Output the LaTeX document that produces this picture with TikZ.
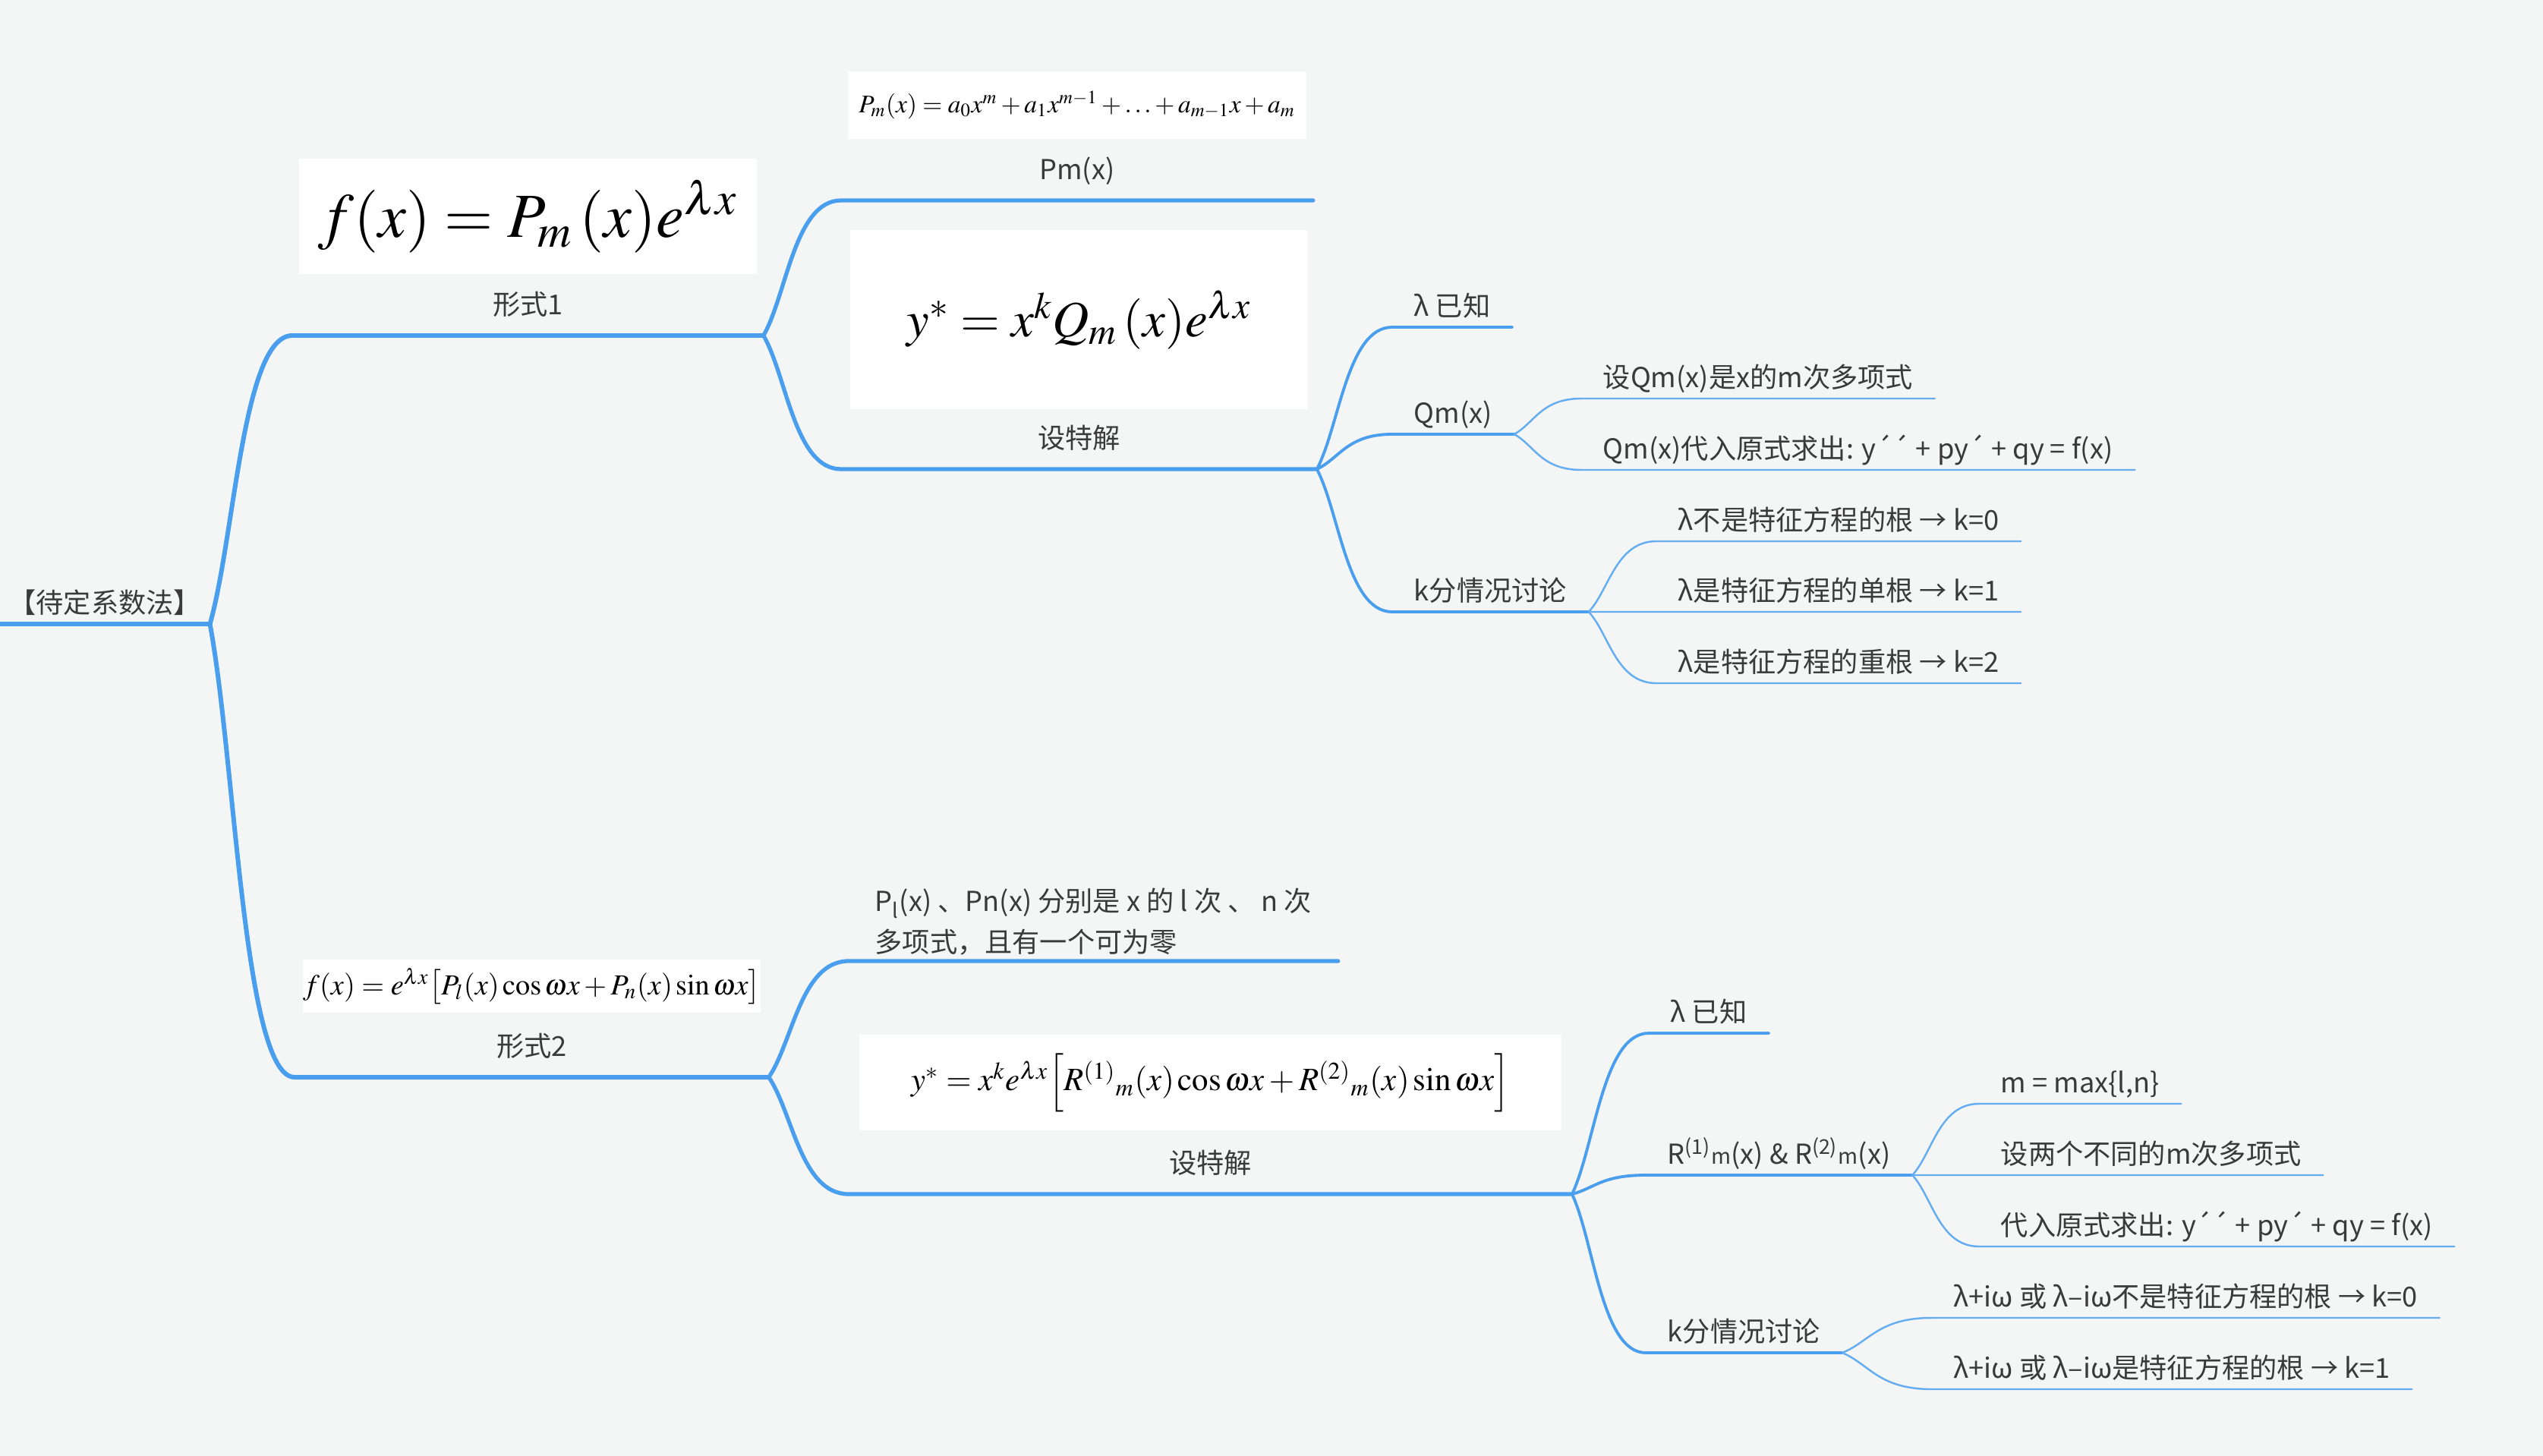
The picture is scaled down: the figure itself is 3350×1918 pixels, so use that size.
\documentclass[tikz,border=0pt]{standalone}
\usepackage{mathptmx}
\usepackage[no-math]{fontspec}
\setmainfont{Noto Sans CJK SC}
\usetikzlibrary{calc,positioning}
\definecolor{bgcol}{HTML}{F4F5F5}
\definecolor{linecol}{HTML}{4A9EEE}
\definecolor{txtcol}{HTML}{3A3A3A}
\tikzset{
	topic/.style={anchor=south west, inner xsep=8pt, inner ysep=2pt, text height=8pt, text depth=2pt, font=\fontsize{10.3}{15.4}\selectfont, text=txtcol},
	major/.style={topic, inner ysep=5.5pt},
	lvA/.style={draw=linecol, line width=1.7pt, line cap=round, line join=round},
	lvB/.style={draw=linecol, line width=1.5pt, line cap=round, line join=round},
	lvC/.style={draw=linecol, line width=1.1pt, line cap=round, line join=round},
	lvD/.style={draw=linecol!85, line width=0.7pt, line cap=round, line join=round},
	eqbox/.style={fill=white, inner sep=0pt}
}

\begin{document}
\begin{tikzpicture}[x=0.01cm, y=-0.01cm]
		\fill[bgcol] (0,0) rectangle (3350,1918);
		\useasboundingbox (0,0) rectangle (3350,1918);
		% root
		\node[topic, inner xsep=1pt, minimum width=2.75cm] (root) at (0,822) {【待定系数法】};
		\draw[lvA] (root.south west) -- (root.south east);
		% form 1
		\node[major, minimum width=6.19cm] (form1) at (385,442) {形式1};
		\node[major, minimum width=6.20cm] (pm) at (1108,264) {Pm(x)};
		\node[major, minimum width=6.25cm] (sol1) at (1108,618) {设特解};
		\node[topic] (lam1) at (1834,431) {λ 已知};
		\node[topic] (qm) at (1834,572) {Qm(x)};
		\node[topic] (k1) at (1834,806) {k分情况讨论};
		\node[topic] (qmA) at (2083,525) {设Qm(x)是x的m次多项式};
		\node[topic] (qmB) at (2083,619) {Qm(x)代入原式求出: y´´ + py´ + qy = f(x)};
		\node[topic] (k1a) at (2182,713) {λ不是特征方程的根 → k=0};
		\node[topic] (k1b) at (2182,806) {λ是特征方程的单根 → k=1};
		\node[topic] (k1c) at (2182,900) {λ是特征方程的重根 → k=2};
		\node[eqbox, minimum width=6.03cm, minimum height=1.52cm, above=0.8cm of form1.south] (eqf1) {\fontsize{23.5}{28}\selectfont $f(x)=P_m\,(x)e^{\lambda x}$};
		\node[eqbox, minimum width=6.03cm, minimum height=0.89cm, above=0.8cm of pm.south] (eqpm) {\fontsize{9.5}{11}\selectfont $P_m(x)=a_0x^m+a_1x^{m-1}+\dots+a_{m-1}x+a_m$};
		\node[eqbox, minimum width=6.03cm, minimum height=2.36cm, above=0.78cm of sol1.south] (eqs1) {\fontsize{19}{22}\selectfont $y^*=x^kQ_m\,(x)e^{\lambda x}$};
		% form 2
		\node[major, minimum width=6.23cm] (form2) at (388,1419) {形式2};
		\node[topic, minimum width=6.43cm, align=left, text height={}, text depth={}] (pl) at (1118,1266) {P\textsubscript{l}(x) 、Pn(x) 分别是 x 的 l 次 、 n 次\\多项式，且有一个可为零};
		\node[major, minimum width=9.51cm] (sol2) at (1118,1573) {设特解};
		\node[topic] (lam2) at (2172,1361) {λ 已知};
		\node[topic] (rr) at (2168,1548) {R\textsuperscript{(1)}{\footnotesize m}(x) \& R\textsuperscript{(2)}{\footnotesize m}(x)};
		\node[topic] (k2) at (2168,1782) {k分情况讨论};
		\node[topic] (rrA) at (2607,1454) {m = max\{l,n\}};
		\node[topic] (rrB) at (2607,1548) {设两个不同的m次多项式};
		\node[topic] (rrC) at (2607,1642) {代入原式求出: y´´ + py´ + qy = f(x)};
		\node[topic] (k2a) at (2545,1736) {λ+iω 或 λ–iω不是特征方程的根 → k=0};
		\node[topic] (k2b) at (2545,1830) {λ+iω 或 λ–iω是特征方程的根 → k=1};
		\node[eqbox, minimum width=5.96cm, minimum height=0.70cm, above=0.84cm of form2.south] (eqf2) {\fontsize{10.9}{13}\selectfont $f(x)=e^{\lambda x}\bigl[P_l(x)\cos\omega x+P_n(x)\sin\omega x\bigr]$};
		\node[eqbox, minimum width=9.24cm, minimum height=1.26cm, above=0.83cm of sol2.south] (eqs2) {\fontsize{12.2}{14}\selectfont $y^*=x^ke^{\lambda x}\Bigl[R^{(1)}{}_m(x)\cos\omega x+R^{(2)}{}_m(x)\sin\omega x\Bigr]$};
		% branches
		\foreach \a/\b/\s in {root/form1/lvA, form1/pm/lvB, form1/sol1/lvB, sol1/lam1/lvC, sol1/qm/lvC, sol1/k1/lvC,
			qm/qmA/lvD, qm/qmB/lvD, k1/k1a/lvD, k1/k1b/lvD, k1/k1c/lvD,
			root/form2/lvA, form2/pl/lvB, form2/sol2/lvB, sol2/lam2/lvC, sol2/rr/lvC, sol2/k2/lvC,
			rr/rrA/lvD, rr/rrB/lvD, rr/rrC/lvD, k2/k2a/lvD, k2/k2b/lvD}
			\draw[\s] (\a.south east) .. controls ($(\a.south east)!0.3!(\b.south west)$) and ($(\b.south west)!0.6!(\b.south west -| \a.south east)$) .. (\b.south west) -- (\b.south east);
\end{tikzpicture}
\end{document}
